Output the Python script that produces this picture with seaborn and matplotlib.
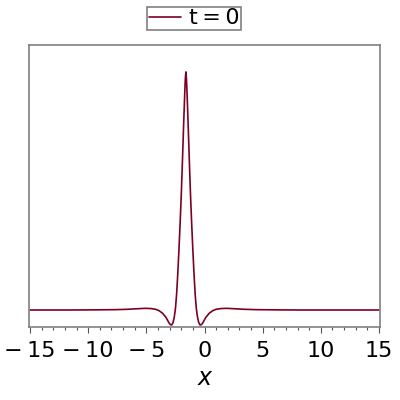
import pandas as pd
import numpy as np
import matplotlib.pyplot as plt
import seaborn as sns

# Values (baseline = 0, peak = 1)
x_vals = [-15.0, -11.6, -9.6, -8.6, -7.6, -6.6, -5.9, -5.1, -4.6, -4.2, -3.9, -3.6,
          -3.3, -3.1, -3.0, -2.9, -2.85, -2.8, -2.7, -2.6, -2.5, -2.4, -2.3, -2.2,
          -2.1, -2.0, -1.9, -1.8, -1.7, -1.65, -1.6, -1.55, -1.5, -1.4, -1.3, -1.2,
          -1.1, -1.0, -0.9, -0.8, -0.7, -0.6, -0.5, -0.4, -0.35, -0.3, -0.2, -0.1,
          0.1, 0.4, 0.7, 1.0, 1.4, 1.9, 2.7, 3.4, 4.4, 5.4, 6.4, 8.4, 11.0, 15.0]
u_vals = [0.0, 0.0, 0.0005, 0.001, 0.0015, 0.003, 0.005, 0.007, 0.006, 0.003, -0.003, -0.014,
          -0.032, -0.050, -0.058, -0.062, -0.063, -0.062, -0.052, -0.030, 0.005, 0.065, 0.15, 0.25,
          0.36, 0.48, 0.62, 0.77, 0.91, 0.97, 1.0, 0.97, 0.91, 0.77, 0.62, 0.48,
          0.36, 0.25, 0.15, 0.065, 0.005, -0.030, -0.052, -0.062, -0.063, -0.062, -0.058, -0.050,
          -0.032, -0.014, -0.003, 0.003, 0.006, 0.007, 0.005, 0.003, 0.0015, 0.001, 0.0005, 0.0, 0.0, 0.0]
series_label = 't\u2009=\u20090'
x_ticks = [-15, -10, -5, 0, 5, 10, 15]
x_tick_labels = ['\u2212\u200915', '\u2212\u200910', '\u2212\u20095', '0', '5', '10', '15']

df = pd.DataFrame({'x': x_vals, 'u': u_vals})

sns.set_style('white')
plt.rcParams['font.family'] = ['DejaVu Sans']

fig = plt.figure(figsize=(4, 4), dpi=100)
ax = fig.add_axes([0.0725, 0.1825, 0.8775, 0.705])

sns.lineplot(data=df, x='x', y='u', color='#7d0022', linewidth=1.2,
             label=series_label, ax=ax, sort=False, legend=False)

ax.set_xlim(-15.09, 15.09)
ax.set_ylim(-0.0714, 1.113)

# frame
for sp in ax.spines.values():
    sp.set_color('#808080')
    sp.set_linewidth(1.2)

ax.set_yticks([])
ax.set_xticks(x_ticks)
ax.set_xticklabels(x_tick_labels, fontsize=16, color='black')
ax.set_xticks(np.arange(-15, 16, 1), minor=True)
ax.tick_params(axis='x', which='major', direction='out', length=4, width=0.8,
               color='#555555', pad=6, bottom=True)
ax.tick_params(axis='x', which='minor', direction='out', length=2.5, width=0.8,
               color='#555555', bottom=True)

ax.set_xlabel('x', fontsize=17, style='italic', color='black', labelpad=4)
ax.set_ylabel('')

# legend above the plot
handles, labels = ax.get_legend_handles_labels()
leg = fig.legend(handles, labels, loc='center', bbox_to_anchor=(0.485, 0.954),
                 fontsize=16, frameon=True, fancybox=False, framealpha=1,
                 edgecolor='#808080', handlelength=1.45, handletextpad=0.35,
                 borderpad=0.08, borderaxespad=0)
leg.get_frame().set_linewidth(1.2)
for t in leg.get_texts():
    t.set_color('black')

plt.savefig('out.png', dpi=100)
